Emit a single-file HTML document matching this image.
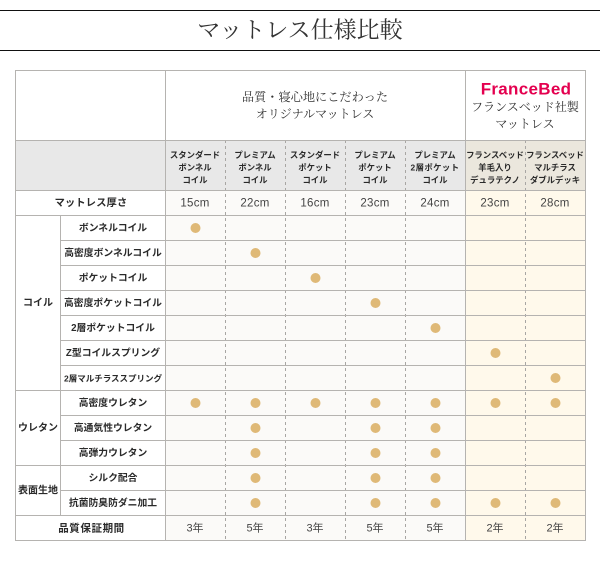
<!DOCTYPE html>
<html lang="ja">
<head>
<meta charset="utf-8">
<style>
html,body{margin:0;padding:0;background:#fff;width:600px;height:585px;overflow:hidden}
svg{display:block}
text{text-anchor:middle;dominant-baseline:central}
.serif{font-family:"Liberation Serif","Noto Serif CJK JP",serif;fill:#333}
.bold{font-family:"Liberation Sans","Noto Sans CJK JP",sans-serif;font-weight:700;fill:#2a2a2a}
.reg{font-family:"Liberation Sans","Noto Sans CJK JP",sans-serif;font-weight:400;fill:#444}
</style>
</head>
<body>
<svg id="chart" width="600" height="585" viewBox="0 0 600 585" xmlns="http://www.w3.org/2000/svg">
  <rect x="0" y="10" width="600" height="1" fill="#111"/>
  <rect x="0" y="50" width="600" height="1" fill="#111"/>
  <text class="serif" x="300" y="30" style="font-size:23px">マットレス仕様比較</text>
</svg>
<script>
var products = [
  ['スタンダード','ボンネル','コイル'],
  ['プレミアム','ボンネル','コイル'],
  ['スタンダード','ポケット','コイル'],
  ['プレミアム','ポケット','コイル'],
  ['プレミアム','2層ポケット','コイル'],
  ['フランスベッド','羊毛入り','デュラテクノ'],
  ['フランスベッド','マルチラス','ダブルデッキ']
];
var thickness = ['15cm','22cm','16cm','23cm','24cm','23cm','28cm'];
var warranty = ['3年','5年','3年','5年','5年','2年','2年'];
var featureLabels = ['ボンネルコイル','高密度ボンネルコイル','ポケットコイル','高密度ポケットコイル','2層ポケットコイル','Z型コイルスプリング','2層マルチラススプリング','高密度ウレタン','高通気性ウレタン','高弾力ウレタン','シルク配合','抗菌防臭防ダニ加工'];
var featureDots = [
  [1,0,0,0,0,0,0],
  [0,1,0,0,0,0,0],
  [0,0,1,0,0,0,0],
  [0,0,0,1,0,0,0],
  [0,0,0,0,1,0,0],
  [0,0,0,0,0,1,0],
  [0,0,0,0,0,0,1],
  [1,1,1,1,1,1,1],
  [0,1,0,1,1,0,0],
  [0,1,0,1,1,0,0],
  [0,1,0,1,1,0,0],
  [0,1,0,1,1,1,1]
];
var groupLabels = ['コイル','ウレタン','表面生地'];
var groupSizes = [7,3,2];

var svg = document.getElementById('chart');
var NS = 'http://www.w3.org/2000/svg';
var L = 15, G = 60, F = 165, R = 585, COL = 60, FR = 465;
var T = 70, H1 = 140, H2 = 190, H3 = 215, ROW = 25;
function colX(i){ return F + i * COL; }
function colMid(i){ return colX(i) + COL / 2; }
function rowY(i){ return H3 + i * ROW; }
var B = rowY(featureLabels.length) + ROW;
function add(tag, attrs, parent){
  var el = document.createElementNS(NS, tag);
  for (var k in attrs) el.setAttribute(k, attrs[k]);
  (parent || svg).appendChild(el);
  return el;
}
function label(cls, x, y, size, str, spacing){
  var el = add('text', {'class': cls, x: x, y: y});
  el.style.fontSize = size + 'px';
  if (spacing) el.style.letterSpacing = spacing + 'px';
  el.textContent = str;
  return el;
}
function hline(y, x1, x2, color){
  return add('rect', {x: x1, y: y, width: x2 - x1, height: 1, fill: color || '#b5b3b0'});
}
function vline(x, y1, y2, color){
  return add('rect', {x: x, y: y1, width: 1, height: y2 - y1, fill: color || '#b5b3b0'});
}

var bg = add('rect', {x: F, y: H2, width: FR - F, height: B - H2, fill: '#fbfaf8'});


var bgF = add('rect', {x: FR, y: H2, width: R - FR, height: B - H2, fill: '#fff9eb'});


var hdA = add('rect', {x: L, y: H1, width: FR - L, height: H2 - H1, fill: '#e8e8e8'});


var hdB = add('rect', {x: FR, y: H1, width: R - FR, height: H2 - H1, fill: '#ebe7dd'});



// dashed column separators
[1,2,3,4,6].forEach(function(i){
  var d = add('line', {x1: colX(i) + 0.5, x2: colX(i) + 0.5, y1: H1, y2: B, stroke: '#a8a6a3', 'stroke-width': 1, 'stroke-dasharray': '3 3'});
  
  
});

// horizontal rules
hline(T, L, R + 1);
hline(H1, L, R + 1);
hline(H2, L, R + 1);
hline(H3, L, R + 1);
var groupStarts = [];
var acc = 0;
groupSizes.forEach(function(n){ groupStarts.push(acc); acc += n; });
featureLabels.forEach(function(_, i){
  var startsGroup = groupStarts.indexOf(i + 1) !== -1;
  hline(rowY(i + 1), startsGroup || i === featureLabels.length - 1 ? L : G, R + 1);
});
hline(B, L, R + 1);

// vertical rules
vline(L, T, B + 1);
vline(F, T, B + 1);
vline(FR, T, B + 1);
vline(R, T, B + 1);
vline(G, H3, rowY(featureLabels.length));

// super headers
var h1 = label('serif', 315, 97, 12.2, '品質・寝心地にこだわった');


var h2 = label('serif', 315, 114, 12, 'オリジナルマットレス');


var logo = label('bold', 526, 89, 17, 'FranceBed', 0.3);
logo.style.fill = '#e4004f';
logo.style.fontWeight = '900';


var h3 = label('serif', 525, 107, 12, 'フランスベッド社製');


var h4 = label('serif', 525, 124, 12, 'マットレス');



// product headers and value rows
products.forEach(function(lines, i){
  lines.forEach(function(str, j){
    var t = label('bold', colMid(i), 155 + j * 12.5, 8.4, str, /[0-9]/.test(str) ? 0.4 : 0);
    
    
  });
  var th = label('reg', colMid(i), H2 + 13.5, 11.5, thickness[i], 0.3);
  
  
  var w = label('reg', colMid(i), rowY(featureLabels.length) + 13.5, 11, warranty[i]);
  
  
});
var thTitle = label('bold', 91, H2 + 13.5, 10.2, 'マットレス厚さ', 0.2);


var wTitle = label('bold', 91.5, rowY(featureLabels.length) + 13.5, 10.5, '品質保証期間', 0.6);



// groups
groupLabels.forEach(function(str, g){
  var mid = rowY(groupStarts[g]) + groupSizes[g] * ROW / 2;
  var t = label('bold', 38, mid + 1, 10, str);
  
  
});

// feature rows and dots
featureLabels.forEach(function(str, r){
  var size = str.length > 10 ? 8.5 : 9.8;
  var t = label('bold', 113, rowY(r) + 13.5, size, str);
  
  
  featureDots[r].forEach(function(v, c){
    if (!v) return;
    var dot = add('circle', {cx: colMid(c) + 0.5, cy: rowY(r) + 13, r: 5, fill: '#dfb977'});
    
    
  });
});
</script>
</body>
</html>
